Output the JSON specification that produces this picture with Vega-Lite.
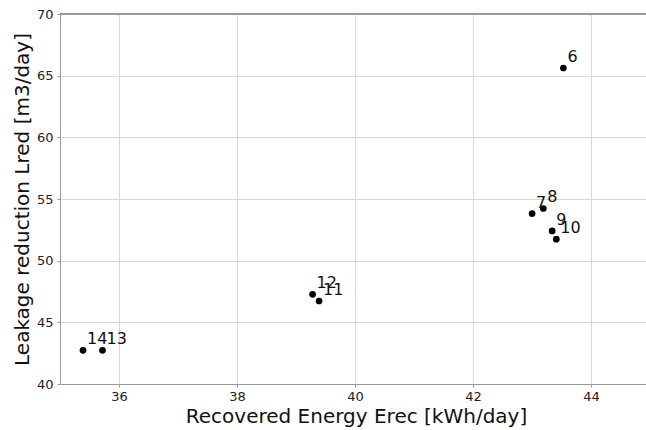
{
  "$schema": "https://vega.github.io/schema/vega-lite/v6.json",
  "autosize": "none",
  "width": 586,
  "height": 370,
  "padding": {"left": 60, "top": 14, "right": 0, "bottom": 46},
  "background": "white",
  "config": {
    "view": {"stroke": null},
    "font": "DejaVu Sans",
    "axis": {
      "labelFont": "DejaVu Sans",
      "titleFont": "DejaVu Sans",
      "labelFontSize": 13,
      "titleFontSize": 20,
      "titleFontWeight": "normal",
      "labelColor": "#222",
      "titleColor": "#111",
      "domainColor": "#999",
      "tickColor": "#999",
      "tickSize": 3,
      "gridColor": "#d9d9d9",
      "gridWidth": 1
    }
  },
  "data": {
    "values": [
      {"erec": 43.53, "lred": 65.62, "label": "6"},
      {"erec": 43.0, "lred": 53.82, "label": "7"},
      {"erec": 43.19, "lred": 54.23, "label": "8"},
      {"erec": 43.34, "lred": 52.41, "label": "9"},
      {"erec": 43.41, "lred": 51.74, "label": "10"},
      {"erec": 39.39, "lred": 46.73, "label": "11"},
      {"erec": 39.28, "lred": 47.27, "label": "12"},
      {"erec": 35.72, "lred": 42.73, "label": "13"},
      {"erec": 35.39, "lred": 42.73, "label": "14"}
    ]
  },
  "encoding": {
    "x": {
      "field": "erec",
      "type": "quantitative",
      "scale": {"domain": [35, 44.93], "nice": false, "zero": false},
      "axis": {
        "title": "Recovered Energy Erec [kWh/day]",
        "values": [36, 38, 40, 42, 44],
        "labelBaseline": "alphabetic",
        "labelPadding": 13,
        "titleBaseline": "alphabetic",
        "titleY": 38,
        "titleX": 296
      }
    },
    "y": {
      "field": "lred",
      "type": "quantitative",
      "scale": {"domain": [40, 70], "nice": false, "zero": false},
      "axis": {
        "title": "Leakage reduction Lred [m3/day]",
        "values": [40, 45, 50, 55, 60, 65, 70],
        "labelPadding": 4,
        "titleAngle": -90,
        "titleBaseline": "alphabetic",
        "titleAlign": "center",
        "titleX": -32,
        "titleY": 185
      }
    }
  },
  "layer": [
    {
      "mark": {"type": "rule", "color": "#999", "strokeWidth": 1},
      "encoding": {"y": {"datum": 70}, "x": null}
    },
    {
      "mark": {"type": "point", "filled": true, "color": "black", "size": 45, "opacity": 1}
    },
    {
      "mark": {"type": "text", "align": "left", "baseline": "alphabetic", "dx": 4, "dy": -6, "fontSize": 16, "font": "DejaVu Sans", "color": "#111"},
      "encoding": {"text": {"field": "label"}}
    }
  ]
}
